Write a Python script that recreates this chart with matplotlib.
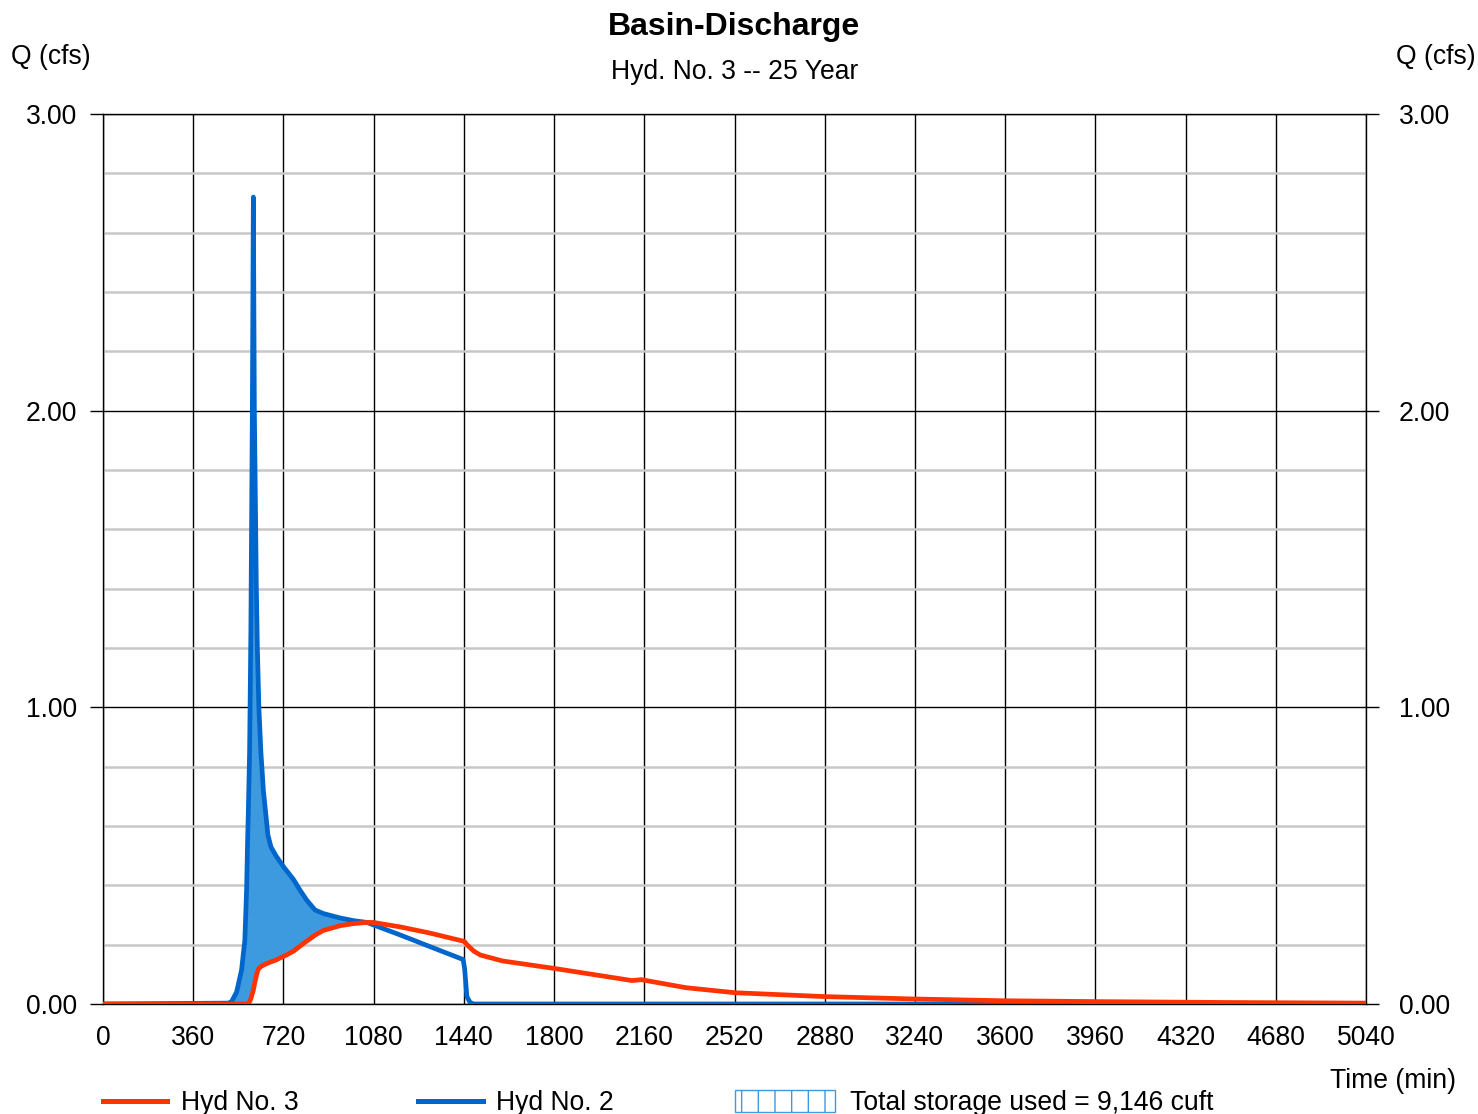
import numpy as np
import matplotlib
matplotlib.use("Agg")
import matplotlib.pyplot as plt
from matplotlib.ticker import MultipleLocator, FormatStrFormatter
from matplotlib.lines import Line2D
from matplotlib.patches import Rectangle

plt.rcParams['font.family'] = ['Liberation Sans', 'DejaVu Sans']

# ---- data ----
time_min = [0, 500, 513, 533, 553, 566, 573, 577, 580, 585, 590, 596, 600, 604, 612, 616,
            622, 630, 640, 658, 670, 690, 706, 720, 760, 786, 813, 846, 879, 946, 1000,
            1053, 1078, 1185, 1300, 1437, 1443, 1452, 1465, 1480, 1506, 1595, 1800, 2111,
            2148, 2326, 2522, 2877, 3233, 3590, 3979, 4500, 5040]
hyd2_inflow = [0, 0.003, 0.008, 0.04, 0.115, 0.215, 0.385, 0.55, 0.65, 0.85, 1.25, 2.0, 2.72,
               2.0, 1.4, 1.2, 1.0, 0.85, 0.72, 0.57, 0.53, 0.5, 0.48, 0.463, 0.42, 0.384,
               0.35, 0.317, 0.305, 0.29, 0.281, 0.275, 0.267, 0.233, 0.195, 0.15, 0.12,
               0.025, 0.005, 0, 0, 0, 0, 0, 0, 0, 0, 0, 0, 0, 0, 0, 0]
hyd3_outflow = [0, 0, 0, 0, 0, 0, 0, 0, 0.002, 0.008, 0.018, 0.035, 0.047, 0.065, 0.095, 0.109,
                0.12, 0.126, 0.131, 0.138, 0.142, 0.148, 0.155, 0.16, 0.178, 0.195, 0.212,
                0.232, 0.248, 0.264, 0.271, 0.275, 0.275, 0.26, 0.24, 0.212, 0.21, 0.2, 0.19,
                0.178, 0.165, 0.145, 0.12, 0.079, 0.082, 0.055, 0.038, 0.025, 0.017, 0.011,
                0.008, 0.005, 0.003]
x_ticks = list(range(0, 5041, 360))
y_ticks = [0.0, 1.0, 2.0, 3.0]
title = "Basin-Discharge"
subtitle = "Hyd. No. 3 -- 25 Year"
storage_label = "Total storage used = 9,146 cuft"

W, H = 1478, 1114
fig = plt.figure(figsize=(W / 100, H / 100), dpi=100)
ax = fig.add_axes([103 / W, 110 / H, (1366 - 103) / W, (1004 - 114) / H])

t = np.array(time_min)
q2 = np.array(hyd2_inflow)
q3 = np.array(hyd3_outflow)

BLUE = '#0066cc'
FILL = '#3e9ade'
RED = '#ff3300'
FS = 19.1

ax.fill_between(t, q3, q2, where=q2 >= q3, interpolate=True, color=FILL, lw=0, zorder=2)
ax.plot(t, q2, color=BLUE, lw=3.4, zorder=3, solid_joinstyle='round')
ax.plot(t, q3, color=RED, lw=3.4, zorder=4, solid_joinstyle='round')

ax.set_xlim(0, 5040)
ax.set_ylim(0, 3.0)
ax.set_xticks(x_ticks)
ax.set_yticks(y_ticks)
ax.yaxis.set_minor_locator(MultipleLocator(0.2))
ax.yaxis.set_major_formatter(FormatStrFormatter('%.2f'))
ax.set_axisbelow(True)
ax.grid(which='major', axis='both', color='black', lw=1.0)
ax.grid(which='minor', axis='y', color='#c8c8c8', lw=1.8)
for s in ax.spines.values():
    s.set_color('black')
    s.set_linewidth(1.0)

ax.tick_params(axis='y', which='major', length=9.5, width=1, direction='out',
               left=True, right=False, labelleft=True, labelright=False,
               labelsize=FS, pad=9)
ax.tick_params(axis='y', which='minor', length=0)
ax.tick_params(axis='x', which='major', length=0, labelsize=FS, pad=15)

# right-hand duplicate axis
axr = ax.twinx()
axr.set_ylim(0, 3.0)
axr.set_yticks(y_ticks)
axr.yaxis.set_major_formatter(FormatStrFormatter('%.2f'))
axr.tick_params(axis='y', which='major', length=9.5, width=1, direction='out',
                labelsize=FS, pad=14)
for s in axr.spines.values():
    s.set_visible(False)

# titles and axis labels
cx = (103 + 1366) / 2 / W
fig.text(cx, 1 - 27 / H, title, ha='center', va='center', fontsize=23, fontweight='bold')
fig.text(cx, 1 - 72 / H, subtitle, ha='center', va='center', fontsize=FS)
fig.text(11 / W, 1 - 57 / H, "Q (cfs)", ha='left', va='center', fontsize=FS)
fig.text(1476 / W, 1 - 57 / H, "Q (cfs)", ha='right', va='center', fontsize=FS)
fig.text(1456 / W, 1 - 1081 / H, "Time (min)", ha='right', va='center', fontsize=FS)

# legend
ly = 1 - 1101 / H
ty = 1 - 1103 / H
fig.add_artist(Line2D([103 / W, 167 / W], [ly, ly], color=RED, lw=3.6, transform=fig.transFigure))
fig.text(181 / W, ty, "Hyd No. 3", ha='left', va='center', fontsize=FS)
fig.add_artist(Line2D([418 / W, 483 / W], [ly, ly], color=BLUE, lw=3.6, transform=fig.transFigure))
fig.text(496 / W, ty, "Hyd No. 2", ha='left', va='center', fontsize=FS)
plt.rcParams['hatch.color'] = FILL
plt.rcParams['hatch.linewidth'] = 1.0
fig.add_artist(Rectangle((735 / W, 1 - 1112 / H), 100 / W, 22 / H, transform=fig.transFigure,
                         facecolor='white', edgecolor=FILL, hatch='|', lw=1.0))
fig.text(850 / W, ty, storage_label, ha='left', va='center', fontsize=FS)

fig.savefig("out.png", dpi=100)
